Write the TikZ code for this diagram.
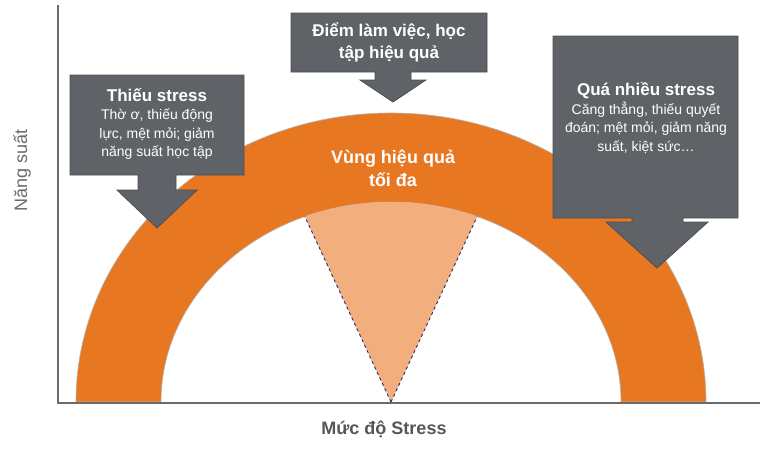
\documentclass[tikz,border=0pt]{standalone}
\usepackage{fontspec}
\setmainfont{Liberation Sans}
\definecolor{org}{HTML}{E87722}
\definecolor{lorg}{HTML}{F2AE7C}
\definecolor{cg}{HTML}{5F6266}
\definecolor{ax}{HTML}{6B6B6B}
\definecolor{navy}{HTML}{1F2A7A}
\begin{document}
\begin{tikzpicture}[x=1pt,y=-1pt,
  callout/.style={fill=cg,draw=cg!80!black,line width=0.8pt},
  ctext/.style={text=white,align=center,font=\fontsize{14}{18.5}\selectfont}]
\useasboundingbox (0,0) rectangle (773,448);
% arc
\fill[org,draw=gray!60,line width=0.6pt] (76,402) arc[start angle=180,end angle=360,x radius=315,y radius=289]
  -- (621,402) arc[start angle=360,end angle=180,x radius=230,y radius=200] -- cycle;
\coordinate (apex) at (391,402);
\coordinate (v1) at ([shift={(391,402)}]248:230 and 200);
\coordinate (v2) at ([shift={(391,402)}]292:230 and 200);
\fill[lorg] (apex) -- (v1) arc[start angle=248,end angle=292,x radius=230,y radius=200] -- cycle;
\draw[navy,dashed,line width=0.9pt] (apex) -- (v1);
\draw[navy,dashed,line width=0.9pt] (apex) -- (v2);
\node[text=white,font=\fontsize{18}{23}\selectfont\bfseries,align=center] (vung) at (393,168) {Vùng hiệu quả\\tối đa};
% axes
\draw[ax,line width=2pt] (58,5) coordinate (ytop) -- (58,403) coordinate (o) -- (760,403) coordinate (xend);
\node[rotate=90,text=ax,font=\fontsize{18}{20}\selectfont] (ylab) at (22,170) {Năng suất};
\node[text=ax!80!black,font=\fontsize{18}{20}\selectfont\bfseries] (xlab) at (384,429) {Mức độ Stress};
% left callout
\draw[callout] (70,75) -- (244,75) -- (244,175) -- (176,175) -- (176,190) -- (197,190) -- (157,228) -- (117,190) -- (138,190) -- (138,175) -- (70,175) -- cycle;
\node[ctext] (lt) at (157,124) {{\fontsize{17}{19}\selectfont\bfseries Thiếu stress}\\Thờ ơ, thiếu động\\lực, mệt mỏi; giảm\\năng suất học tập};
% middle callout
\draw[callout] (291,13) -- (487,13) -- (487,72) -- (411,72) -- (411,80) -- (426,80) -- (393,102) -- (360,80) -- (375,80) -- (375,72) -- (291,72) -- cycle;
\node[ctext,font=\fontsize{17}{22}\selectfont\bfseries] (mt) at (389,42) {Điểm làm việc, học\\tập hiệu quả};
% right callout
\draw[callout] (553,36) -- (738,36) -- (738,218) -- (683,218) -- (683,222) -- (708,222) -- (657,268) -- (606,222) -- (632,222) -- (632,218) -- (553,218) -- cycle;
\node[ctext] (rt) at (646,118) {{\fontsize{17}{19}\selectfont\bfseries Quá nhiều stress}\\Căng thẳng, thiếu quyết\\đoán; mệt mỏi, giảm năng\\suất, kiệt sức\dots};
\end{tikzpicture}
\end{document}
